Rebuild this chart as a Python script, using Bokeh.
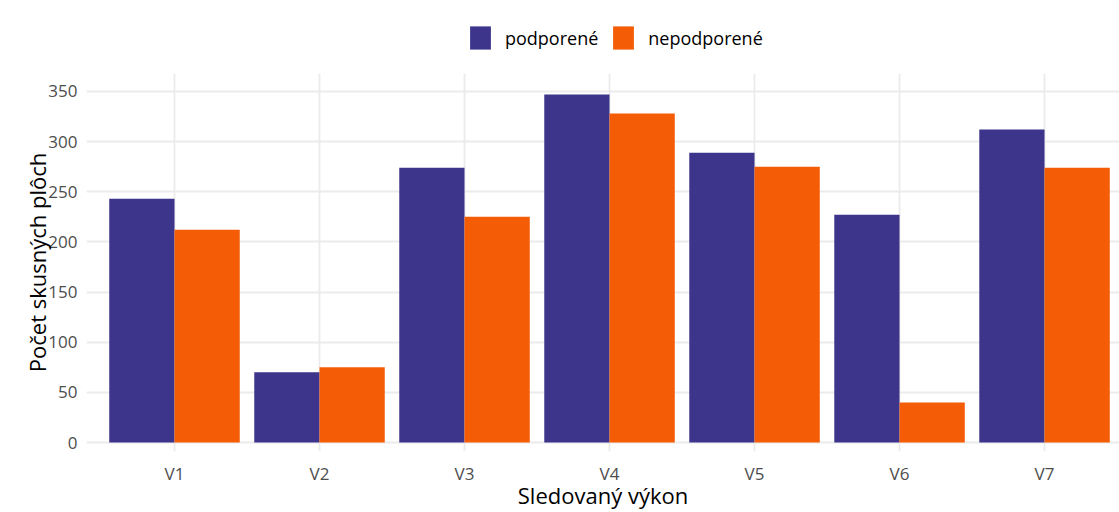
from bokeh.plotting import figure
from bokeh.layouts import column
from bokeh.models import ColumnDataSource, Range1d, FixedTicker, Legend, LegendItem
from bokeh.transform import dodge
from bokeh.embed import file_html
from bokeh.resources import INLINE

categories = ["V1", "V2", "V3", "V4", "V5", "V6", "V7"]
podporene = [243, 70, 274, 347, 289, 227, 312]
nepodporene = [212, 75, 225, 328, 275, 40, 274]
y_ticks = [0, 50, 100, 150, 200, 250, 300, 350]
series_names = ["podporené", "nepodporené"]
colors = ["#3d358b", "#f45c05"]

xpos = list(range(1, len(categories) + 1))
src = ColumnDataSource(dict(x=xpos, a=podporene, b=nepodporene))

FONT = "Open Sans"
TOP_H = 73

# ---- legend strip (top) ----
lg = figure(width=1119, height=TOP_H, output_backend="svg", toolbar_location=None,
            x_range=Range1d(-1000, -999), y_range=Range1d(-1000, -999),
            x_axis_location=None, y_axis_location=None,
            min_border=0)
lg.outline_line_color = None
lg.grid.visible = False
lr1 = lg.vbar(x="x", top="a", width=0.45, bottom=0, source=src,
              fill_color=colors[0], line_color=None)
lr2 = lg.vbar(x="x", top="b", width=0.45, bottom=0, source=src,
              fill_color=colors[1], line_color=None)
legend = Legend(items=[LegendItem(label=series_names[0], renderers=[lr1]),
                       LegendItem(label=series_names[1], renderers=[lr2])],
                orientation="horizontal", location=(381, 21),
                glyph_width=26, glyph_height=29, label_standoff=12, spacing=12,
                padding=0, margin=0, border_line_color=None, background_fill_alpha=0,
                label_text_font=FONT, label_text_font_size="18px",
                label_text_color="#000000")
lg.add_layout(legend)

# ---- main chart ----
p = figure(width=1119, height=512 - TOP_H, output_backend="svg", toolbar_location=None,
           x_range=Range1d(0.3931, 7.517), y_range=Range1d(-8.97, 367.9),
           min_border_left=86, min_border_right=0, min_border_top=0, min_border_bottom=0)
p.outline_line_color = None
p.background_fill_color = "white"
p.border_fill_color = "white"

r1 = p.vbar(x=dodge("x", -0.225, range=p.x_range), top="a", width=0.45, bottom=0,
            source=src, fill_color=colors[0], line_color=None)
r2 = p.vbar(x=dodge("x", 0.225, range=p.x_range), top="b", width=0.45, bottom=0,
            source=src, fill_color=colors[1], line_color=None)

p.xaxis.ticker = FixedTicker(ticks=xpos)
p.xaxis.major_label_overrides = {i: c for i, c in zip(xpos, categories)}
p.yaxis.ticker = FixedTicker(ticks=y_ticks)

for ax in (p.xaxis, p.yaxis):
    ax.axis_line_color = None
    ax.major_tick_line_color = None
    ax.minor_tick_line_color = None
    ax.major_label_text_font = FONT
    ax.major_label_text_font_size = "17px"
    ax.major_label_text_color = "#4d4d4d"
    ax.axis_label_text_font = FONT
    ax.axis_label_text_font_style = "normal"
    ax.axis_label_text_color = "#000000"
    ax.axis_label_text_font_size = "22px"

p.xaxis.axis_label = "Sledovaný výkon"
p.yaxis.axis_label = "Počet skusných plôch"
p.xaxis.major_label_standoff = 4
p.xaxis.axis_label_standoff = -8
p.yaxis.major_label_standoff = 3
p.yaxis.axis_label_standoff = -7

for g in (p.xgrid, p.ygrid):
    g.grid_line_color = "#ebebeb"
    g.grid_line_width = 1.8
p.xgrid.ticker = FixedTicker(ticks=xpos)
p.ygrid.ticker = FixedTicker(ticks=y_ticks)

layout = column(lg, p, spacing=0)
open("out.html", "w").write(file_html(layout, INLINE))
